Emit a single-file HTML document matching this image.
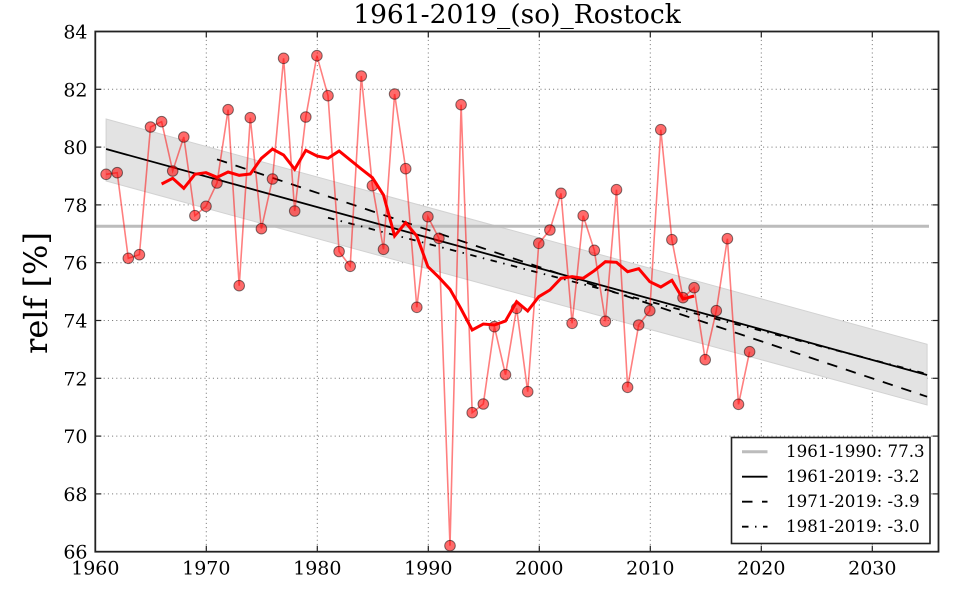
<!DOCTYPE html>
<html>
<head>
<meta charset="utf-8">
<style>
html,body{margin:0;padding:0;background:#fff;}
svg{display:block;}
text{font-family:"DejaVu Serif","Liberation Serif",serif;fill:#000;}
</style>
</head>
<body>
<svg width="960" height="600" viewBox="0 0 960 600" xmlns="http://www.w3.org/2000/svg">
<rect x="0" y="0" width="960" height="600" fill="#fff"/>
<g stroke="#707070" stroke-width="1" stroke-dasharray="1,3.2">
<line x1="206.3" y1="31.5" x2="206.3" y2="551.7"/>
<line x1="317.3" y1="31.5" x2="317.3" y2="551.7"/>
<line x1="428.3" y1="31.5" x2="428.3" y2="551.7"/>
<line x1="539.3" y1="31.5" x2="539.3" y2="551.7"/>
<line x1="650.3" y1="31.5" x2="650.3" y2="551.7"/>
<line x1="761.3" y1="31.5" x2="761.3" y2="551.7"/>
<line x1="872.3" y1="31.5" x2="872.3" y2="551.7"/>
<line x1="95.3" y1="89.3" x2="938.5" y2="89.3"/>
<line x1="95.3" y1="147.1" x2="938.5" y2="147.1"/>
<line x1="95.3" y1="204.9" x2="938.5" y2="204.9"/>
<line x1="95.3" y1="262.7" x2="938.5" y2="262.7"/>
<line x1="95.3" y1="320.5" x2="938.5" y2="320.5"/>
<line x1="95.3" y1="378.3" x2="938.5" y2="378.3"/>
<line x1="95.3" y1="436.1" x2="938.5" y2="436.1"/>
<line x1="95.3" y1="493.9" x2="938.5" y2="493.9"/>
</g>
<polygon points="106.1,119 927.1,344.3 927.1,405 106.1,181" fill="#e3e3e3" stroke="#d2d2d2" stroke-width="1"/>
<line x1="95.3" y1="226.3" x2="929" y2="226.3" stroke="#bcbcbc" stroke-width="3"/>
<line x1="106.1" y1="149" x2="927.1" y2="375" stroke="#000" stroke-width="1.8"/>
<line x1="217" y1="159.3" x2="927.1" y2="396.7" stroke="#000" stroke-width="1.8" stroke-dasharray="10.5,9"/>
<line x1="328" y1="217.7" x2="927.1" y2="374" stroke="#000" stroke-width="1.8" stroke-dasharray="6.5,6.5,1.5,6.5"/>
<polyline fill="none" stroke="rgba(255,0,0,0.5)" stroke-width="1.6" points="106.1,174.3 117.2,172.7 128.3,258.3 139.4,254.7 150.5,127 161.6,121.7 172.7,171 183.8,137 194.9,215.7 206,206.3 217,183 228.1,109.7 239.2,285.7 250.3,117.7 261.4,228.7 272.5,179 283.6,58.3 294.7,211 305.8,117 316.9,55.7 328,95.7 339.1,251.5 350.2,266.3 361.3,76 372.4,185.7 383.5,249.3 394.6,94 405.7,168.7 416.8,307.3 427.9,216.7 438.9,238.3 450,545.7 461.1,104.7 472.2,412.7 483.3,404 494.4,326.7 505.5,374.7 516.6,308.3 527.7,391.7 538.8,243.3 549.9,230 561,193.3 572.1,323.3 583.2,215.7 594.3,250.3 605.4,321.3 616.5,189.7 627.6,387.3 638.7,325 649.8,310.7 660.8,129.7 671.9,239.7 683,297.7 694.1,287.7 705.2,359.7 716.3,310.7 727.4,238.7 738.5,404.3 749.6,351.7"/>
<g fill="rgba(255,0,0,0.58)" stroke="rgba(0,0,0,0.5)" stroke-width="1">
<circle cx="106.1" cy="174.3" r="5.3"/>
<circle cx="117.2" cy="172.7" r="5.3"/>
<circle cx="128.3" cy="258.3" r="5.3"/>
<circle cx="139.4" cy="254.7" r="5.3"/>
<circle cx="150.5" cy="127" r="5.3"/>
<circle cx="161.6" cy="121.7" r="5.3"/>
<circle cx="172.7" cy="171" r="5.3"/>
<circle cx="183.8" cy="137" r="5.3"/>
<circle cx="194.9" cy="215.7" r="5.3"/>
<circle cx="206" cy="206.3" r="5.3"/>
<circle cx="217" cy="183" r="5.3"/>
<circle cx="228.1" cy="109.7" r="5.3"/>
<circle cx="239.2" cy="285.7" r="5.3"/>
<circle cx="250.3" cy="117.7" r="5.3"/>
<circle cx="261.4" cy="228.7" r="5.3"/>
<circle cx="272.5" cy="179" r="5.3"/>
<circle cx="283.6" cy="58.3" r="5.3"/>
<circle cx="294.7" cy="211" r="5.3"/>
<circle cx="305.8" cy="117" r="5.3"/>
<circle cx="316.9" cy="55.7" r="5.3"/>
<circle cx="328" cy="95.7" r="5.3"/>
<circle cx="339.1" cy="251.5" r="5.3"/>
<circle cx="350.2" cy="266.3" r="5.3"/>
<circle cx="361.3" cy="76" r="5.3"/>
<circle cx="372.4" cy="185.7" r="5.3"/>
<circle cx="383.5" cy="249.3" r="5.3"/>
<circle cx="394.6" cy="94" r="5.3"/>
<circle cx="405.7" cy="168.7" r="5.3"/>
<circle cx="416.8" cy="307.3" r="5.3"/>
<circle cx="427.9" cy="216.7" r="5.3"/>
<circle cx="438.9" cy="238.3" r="5.3"/>
<circle cx="450" cy="545.7" r="5.3"/>
<circle cx="461.1" cy="104.7" r="5.3"/>
<circle cx="472.2" cy="412.7" r="5.3"/>
<circle cx="483.3" cy="404" r="5.3"/>
<circle cx="494.4" cy="326.7" r="5.3"/>
<circle cx="505.5" cy="374.7" r="5.3"/>
<circle cx="516.6" cy="308.3" r="5.3"/>
<circle cx="527.7" cy="391.7" r="5.3"/>
<circle cx="538.8" cy="243.3" r="5.3"/>
<circle cx="549.9" cy="230" r="5.3"/>
<circle cx="561" cy="193.3" r="5.3"/>
<circle cx="572.1" cy="323.3" r="5.3"/>
<circle cx="583.2" cy="215.7" r="5.3"/>
<circle cx="594.3" cy="250.3" r="5.3"/>
<circle cx="605.4" cy="321.3" r="5.3"/>
<circle cx="616.5" cy="189.7" r="5.3"/>
<circle cx="627.6" cy="387.3" r="5.3"/>
<circle cx="638.7" cy="325" r="5.3"/>
<circle cx="649.8" cy="310.7" r="5.3"/>
<circle cx="660.8" cy="129.7" r="5.3"/>
<circle cx="671.9" cy="239.7" r="5.3"/>
<circle cx="683" cy="297.7" r="5.3"/>
<circle cx="694.1" cy="287.7" r="5.3"/>
<circle cx="705.2" cy="359.7" r="5.3"/>
<circle cx="716.3" cy="310.7" r="5.3"/>
<circle cx="727.4" cy="238.7" r="5.3"/>
<circle cx="738.5" cy="404.3" r="5.3"/>
<circle cx="749.6" cy="351.7" r="5.3"/>
</g>
<polyline fill="none" stroke="#ff0000" stroke-width="3" points="161.6,184 172.7,178.3 183.8,188.3 194.9,174.3 206,172.7 217,177.3 228.1,172 239.2,175.3 250.3,174 261.4,158.3 272.5,149 283.6,155 294.7,169.3 305.8,150.3 316.9,156 328,158.3 339.1,151 350.2,160 361.3,169 372.4,177.7 383.5,195 394.6,236 405.7,222.7 416.8,236 427.9,266.7 438.9,277.3 450,289.3 461.1,309 472.2,330 483.3,324 494.4,325 505.5,321 516.6,301.7 527.7,311 538.8,296.7 549.9,290 561,278.3 572.1,276.7 583.2,278.3 594.3,270.7 605.4,261.7 616.5,262.3 627.6,271.7 638.7,268.7 649.8,281.7 660.8,287 671.9,280.3 683,299 694.1,296"/>
<g stroke="#222" stroke-width="1.2">
<line x1="206.3" y1="551.7" x2="206.3" y2="545.7"/><line x1="206.3" y1="31.5" x2="206.3" y2="37.5"/>
<line x1="317.3" y1="551.7" x2="317.3" y2="545.7"/><line x1="317.3" y1="31.5" x2="317.3" y2="37.5"/>
<line x1="428.3" y1="551.7" x2="428.3" y2="545.7"/><line x1="428.3" y1="31.5" x2="428.3" y2="37.5"/>
<line x1="539.3" y1="551.7" x2="539.3" y2="545.7"/><line x1="539.3" y1="31.5" x2="539.3" y2="37.5"/>
<line x1="650.3" y1="551.7" x2="650.3" y2="545.7"/><line x1="650.3" y1="31.5" x2="650.3" y2="37.5"/>
<line x1="761.3" y1="551.7" x2="761.3" y2="545.7"/><line x1="761.3" y1="31.5" x2="761.3" y2="37.5"/>
<line x1="872.3" y1="551.7" x2="872.3" y2="545.7"/><line x1="872.3" y1="31.5" x2="872.3" y2="37.5"/>
<line x1="95.3" y1="89.3" x2="101.3" y2="89.3"/><line x1="938.5" y1="89.3" x2="932.5" y2="89.3"/>
<line x1="95.3" y1="147.1" x2="101.3" y2="147.1"/><line x1="938.5" y1="147.1" x2="932.5" y2="147.1"/>
<line x1="95.3" y1="204.9" x2="101.3" y2="204.9"/><line x1="938.5" y1="204.9" x2="932.5" y2="204.9"/>
<line x1="95.3" y1="262.7" x2="101.3" y2="262.7"/><line x1="938.5" y1="262.7" x2="932.5" y2="262.7"/>
<line x1="95.3" y1="320.5" x2="101.3" y2="320.5"/><line x1="938.5" y1="320.5" x2="932.5" y2="320.5"/>
<line x1="95.3" y1="378.3" x2="101.3" y2="378.3"/><line x1="938.5" y1="378.3" x2="932.5" y2="378.3"/>
<line x1="95.3" y1="436.1" x2="101.3" y2="436.1"/><line x1="938.5" y1="436.1" x2="932.5" y2="436.1"/>
<line x1="95.3" y1="493.9" x2="101.3" y2="493.9"/><line x1="938.5" y1="493.9" x2="932.5" y2="493.9"/>
</g>
<rect x="95.3" y="31.5" width="843.2" height="520.2" fill="none" stroke="#222" stroke-width="1.8"/>
<rect x="731.5" y="437.5" width="198.5" height="106" fill="#fff" stroke="#222" stroke-width="1.6"/>
<line x1="742" y1="451.7" x2="767.5" y2="451.7" stroke="#bcbcbc" stroke-width="3"/>
<line x1="742" y1="476.7" x2="767.5" y2="476.7" stroke="#000" stroke-width="1.8"/>
<line x1="742" y1="501.7" x2="767.5" y2="501.7" stroke="#000" stroke-width="1.8" stroke-dasharray="10.5,9.5"/>
<line x1="742" y1="526.7" x2="767.5" y2="526.7" stroke="#000" stroke-width="1.8" stroke-dasharray="6.5,6.5,1.5,6.5"/>
<g font-size="16.7">
<text x="786" y="456.8">1961-1990: 77.3</text>
<text x="786" y="481.8">1961-2019: -3.2</text>
<text x="786" y="506.8">1971-2019: -3.9</text>
<text x="786" y="531.8">1981-2019: -3.0</text>
</g>
<g font-size="19" text-anchor="end">
<text x="87.5" y="38.5">84</text>
<text x="87.5" y="96.3">82</text>
<text x="87.5" y="154.1">80</text>
<text x="87.5" y="211.9">78</text>
<text x="87.5" y="269.7">76</text>
<text x="87.5" y="327.5">74</text>
<text x="87.5" y="385.3">72</text>
<text x="87.5" y="443.1">70</text>
<text x="87.5" y="500.9">68</text>
<text x="87.5" y="558.7">66</text>
</g>
<g font-size="19" text-anchor="middle">
<text x="95.3" y="574.5">1960</text>
<text x="206.3" y="574.5">1970</text>
<text x="317.3" y="574.5">1980</text>
<text x="428.3" y="574.5">1990</text>
<text x="539.3" y="574.5">2000</text>
<text x="650.3" y="574.5">2010</text>
<text x="761.3" y="574.5">2020</text>
<text x="872.3" y="574.5">2030</text>
</g>
<text x="517" y="23" font-size="26.5" text-anchor="middle">1961-2019_(so)_Rostock</text>
<text transform="translate(47,293) rotate(-90)" font-size="32" text-anchor="middle">relf [%]</text>
</svg>
</body>
</html>
